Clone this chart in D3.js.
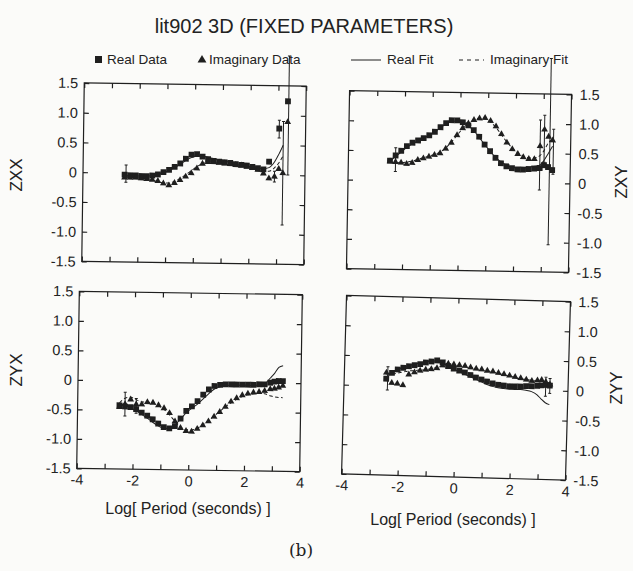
<!DOCTYPE html>
<html>
<head>
<meta charset="utf-8">
<script src="https://cdn.jsdelivr.net/npm/d3@7"></script>
<style>
  body { margin: 0; background: #fbfbf9; }
  svg { display: block; font-family: "Liberation Sans", Arial, sans-serif; }
</style>
</head>
<body>
<svg id="chart" width="633" height="571"></svg>
<script>
// log10 period (s) at which every response was sampled
const periods = [-2.5, -2.3, -2.1, -1.9, -1.7, -1.5, -1.3, -1.1, -0.9, -0.7, -0.5, -0.3, -0.1,
    0.1, 0.3, 0.5, 0.7, 0.9, 1.1, 1.3, 1.5, 1.7, 1.9, 2.1, 2.3, 2.5, 2.7, 2.9, 3.05, 3.2, 3.35];

const zxxReal = [-0.03, -0.04, -0.04, -0.05, -0.05, -0.04, -0.02, 0.02, 0.06, 0.11, 0.17, 0.25, 0.32,
    0.33, 0.29, 0.25, 0.22, 0.21, 0.20, 0.19, 0.17, 0.16, 0.15, 0.13, 0.11, 0.09, 0.22, null, 0.78, null, 1.24];
const zxxImag = [-0.08, -0.08, -0.08, -0.09, -0.10, -0.11, -0.13, -0.17, -0.20, -0.16, -0.11, -0.05, 0.01,
    0.09, 0.17, 0.20, 0.20, 0.19, 0.18, 0.17, 0.16, 0.15, 0.13, 0.11, 0.08, 0.02, -0.06, -0.03, 0.10, 0.03, 0.89];
const zxxRealFit = [-0.04, -0.05, -0.05, -0.05, -0.05, -0.04, -0.02, 0.01, 0.05, 0.10, 0.16, 0.22, 0.27,
    0.30, 0.30, 0.28, 0.26, 0.24, 0.22, 0.20, 0.18, 0.16, 0.14, 0.12, 0.11, 0.10, 0.12, 0.22, 0.35, 0.50, null];
const zxxImagFit = [-0.07, -0.07, -0.08, -0.09, -0.10, -0.12, -0.14, -0.16, -0.16, -0.13, -0.08, -0.02, 0.05,
    0.12, 0.17, 0.19, 0.19, 0.18, 0.17, 0.16, 0.15, 0.14, 0.12, 0.10, 0.08, 0.06, 0.06, 0.12, 0.20, 0.32, null];
const zxxErrors = [
    { p: -2.45, lo: -0.16, hi: 0.13 }, { p: 2.9, lo: -0.12, hi: 0.06 }, { p: 3.05, lo: 0.62, hi: 0.92 },
    { p: 3.2, lo: -0.84, hi: 0.9 }, { p: 3.38, lo: 0.0, hi: 2.0 }
];

const zxyReal = [0.33, 0.42, 0.50, 0.58, 0.64, 0.68, 0.72, 0.77, 0.83, 0.91, 0.98, 1.03, 1.03,
    1.00, 0.95, 0.87, 0.76, 0.63, 0.52, 0.41, 0.32, 0.27, 0.24, 0.22, 0.22, 0.23, 0.24, 0.25, 0.30, 0.27, 0.22];
const zxyImag = [0.32, 0.31, 0.30, 0.28, 0.30, 0.35, 0.38, 0.41, 0.44, 0.47, 0.55, 0.65, 0.78,
    0.90, 0.98, 1.04, 1.07, 1.08, 1.03, 0.94, 0.81, 0.67, 0.56, 0.48, 0.43, 0.40, 0.40, 0.62, 0.90, 0.78, 0.72];
const zxyRealFit = [0.32, 0.40, 0.48, 0.56, 0.62, 0.67, 0.72, 0.77, 0.83, 0.90, 0.97, 1.01, 1.02,
    1.00, 0.94, 0.86, 0.75, 0.63, 0.52, 0.42, 0.34, 0.29, 0.26, 0.25, 0.25, 0.26, 0.28, 0.30, 0.38, 0.50, 0.62];
const zxyImagFit = [0.30, 0.30, 0.30, 0.31, 0.33, 0.36, 0.39, 0.42, 0.45, 0.49, 0.56, 0.66, 0.78,
    0.89, 0.98, 1.04, 1.07, 1.06, 1.01, 0.92, 0.80, 0.68, 0.58, 0.50, 0.45, 0.42, 0.42, 0.46, 0.55, 0.68, 0.74];
const zxyErrors = [
    { p: -2.3, lo: 0.15, hi: 0.55 }, { p: 2.9, lo: -0.12, hi: 1.06 }, { p: 3.05, lo: 0.35, hi: 1.14 },
    { p: 3.25, lo: -1.04, hi: 2.1 }, { p: 3.38, lo: 0.15, hi: 0.91 }
];

const zyxReal = [-0.42, -0.44, -0.45, -0.48, -0.54, -0.59, -0.65, -0.72, -0.78, -0.80, -0.76, -0.63, -0.50,
    -0.42, -0.33, -0.22, -0.13, -0.07, -0.05, -0.04, -0.04, -0.04, -0.04, -0.04, -0.04, -0.03, -0.03, 0.00, 0.02, 0.03, 0.03];
const zyxImag = [-0.45, -0.40, -0.32, -0.40, -0.40, -0.36, -0.37, -0.41, -0.46, -0.54, -0.68, -0.79, -0.84,
    -0.85, -0.80, -0.74, -0.67, -0.59, -0.51, -0.42, -0.33, -0.27, -0.22, -0.19, -0.17, -0.16, -0.14, -0.11, -0.10, -0.08, -0.05];
const zyxRealFit = [-0.40, -0.42, -0.46, -0.51, -0.57, -0.63, -0.70, -0.76, -0.80, -0.80, -0.74, -0.64, -0.53,
    -0.45, -0.38, -0.29, -0.20, -0.12, -0.08, -0.06, -0.05, -0.05, -0.05, -0.05, -0.05, -0.04, -0.02, 0.08, 0.16, 0.26, 0.29];
const zyxImagFit = [-0.38, -0.30, -0.28, -0.32, -0.36, -0.36, -0.38, -0.42, -0.48, -0.57, -0.68, -0.77, -0.82,
    -0.82, -0.79, -0.73, -0.66, -0.58, -0.50, -0.42, -0.35, -0.29, -0.24, -0.21, -0.19, -0.18, -0.19, -0.22, -0.24, -0.25, -0.25];
const zyxErrors = [{ p: -2.3, lo: -0.6, hi: -0.2 }, { p: -1.9, lo: -0.55, hi: -0.3 }];

const zyyReal = [0.12, 0.22, 0.28, 0.31, 0.34, 0.36, 0.38, 0.41, 0.43, 0.45, 0.42, 0.36, 0.32,
    0.29, 0.26, 0.22, 0.18, 0.15, 0.12, 0.09, 0.07, 0.06, 0.05, 0.05, 0.05, 0.06, 0.06, 0.07, 0.08, 0.09, 0.08];
const zyyImag = [0.22, 0.05, 0.04, 0.02, 0.20, 0.24, 0.27, 0.29, 0.30, 0.32, 0.37, 0.40, 0.39,
    0.38, 0.37, 0.35, 0.33, 0.32, 0.30, 0.29, 0.27, 0.25, 0.23, 0.21, 0.19, 0.17, 0.15, 0.16, 0.17, 0.14, 0.10];
const zyyRealFit = [0.15, 0.22, 0.28, 0.32, 0.35, 0.38, 0.40, 0.42, 0.44, 0.44, 0.41, 0.36, 0.31,
    0.27, 0.23, 0.19, 0.15, 0.11, 0.07, 0.04, 0.02, 0.01, 0.00, 0.00, 0.00, -0.01, -0.03, -0.08, -0.15, -0.21, -0.24];
const zyyImagFit = [0.20, 0.20, 0.22, 0.24, 0.26, 0.27, 0.28, 0.29, 0.31, 0.33, 0.36, 0.38, 0.38,
    0.37, 0.36, 0.35, 0.33, 0.31, 0.30, 0.28, 0.26, 0.24, 0.22, 0.20, 0.18, 0.17, 0.16, 0.15, 0.15, 0.14, 0.12];
const zyyErrors = [{ p: -2.45, lo: -0.07, hi: 0.32 }, { p: 3.2, lo: -0.1, hi: 0.22 }, { p: 3.35, lo: -0.05, hi: 0.2 }];

const xTicks = [-4, -3, -2, -1, 0, 1, 2, 3, 4];
const xTickLabels = [-4, -2, 0, 2, 4];
const yTicks = [-1.5, -1.0, -0.5, 0, 0.5, 1.0, 1.5];

const INK = "#1f1f1f";
const TEXT = "#222";

const svg = d3.select("#chart");

// title + legend
svg.append("text")
    .attr("x", 304).attr("y", 33)
    .attr("text-anchor", "middle")
    .attr("font-size", 20)
    .attr("fill", TEXT)
    .text("lit902 3D (FIXED PARAMETERS)");

const legend = svg.append("g").attr("font-size", 13.5).attr("fill", TEXT);
legend.append("rect").attr("x", 95).attr("y", 56).attr("width", 7).attr("height", 7).attr("fill", INK);
legend.append("text").attr("x", 107).attr("y", 64).text("Real Data");
legend.append("path").attr("d", d3.symbol(d3.symbolTriangle, 34)()).attr("transform", "translate(202,60)").attr("fill", INK);
legend.append("text").attr("x", 209).attr("y", 64).text("Imaginary Data");
legend.append("line").attr("x1", 351).attr("x2", 381).attr("y1", 60).attr("y2", 60).attr("stroke", INK);
legend.append("text").attr("x", 387).attr("y", 64).text("Real Fit");
legend.append("line").attr("x1", 459).attr("x2", 484).attr("y1", 60).attr("y2", 60)
    .attr("stroke", INK).attr("stroke-dasharray", "4,4");
legend.append("text").attr("x", 490).attr("y", 64).text("Imaginary Fit");

const panels = [
    { name: "ZXX", real: zxxReal, imag: zxxImag, realFit: zxxRealFit, imagFit: zxxImagFit, errors: zxxErrors,
      box: [83, 84.5, 305, 263], angle: 0.8, side: "left", xLabels: false, title: [22, 175] },
    { name: "ZXY", real: zxyReal, imag: zxyImag, realFit: zxyRealFit, imagFit: zxyImagFit, errors: zxyErrors,
      box: [348, 92.5, 570, 270.5], angle: 1.0, side: "right", xLabels: false, title: [627, 182] },
    { name: "ZYX", real: zyxReal, imag: zyxImag, realFit: zyxRealFit, imagFit: zyxImagFit, errors: zyxErrors,
      box: [78, 293, 301, 470], angle: 0.85, side: "left", xLabels: true, title: [22, 370], xTitle: [188, 514] },
    { name: "ZYY", real: zyyReal, imag: zyyImag, realFit: zyyRealFit, imagFit: zyyImagFit, errors: zyyErrors,
      box: [344, 298.5, 568, 477], angle: 1.6, side: "right", xLabels: true, title: [622, 388], xTitle: [453, 525] }
];

const fmtY = (d) => (d === 0 ? "0" : d.toFixed(1));

panels.forEach((panel) => {
    const [x0, y0, x1, y1] = panel.box;
    const w = x1 - x0;
    const h = y1 - y0;
    const cx = x0 + w / 2;
    const cy = y0 + h / 2;

    const x = d3.scaleLinear().domain([-4, 4]).range([0, w]);
    const y = d3.scaleLinear().domain([-1.5, 1.5]).range([h, 0]);

    const g = svg.append("g")
        .attr("transform", `rotate(${panel.angle},${cx},${cy}) translate(${x0},${y0})`);

    g.append("rect")
        .attr("width", w).attr("height", h)
        .attr("fill", "none").attr("stroke", INK).attr("stroke-width", 1.2);

    const styleAxis = (sel) => {
        sel.select(".domain").remove();
        sel.selectAll("line").attr("stroke", INK).attr("stroke-width", 1.2);
        sel.selectAll("text")
            .attr("fill", TEXT)
            .attr("font-size", 14.5)
            .attr("font-family", "Liberation Sans, Arial, sans-serif");
    };

    g.append("g").attr("transform", `translate(0,${h})`)
        .call(d3.axisBottom(x).tickValues(xTicks).tickSize(-5).tickSizeOuter(0).tickPadding(6)
            .tickFormat((d) => (panel.xLabels && xTickLabels.includes(d) ? String(d) : "")))
        .call(styleAxis);
    g.append("g")
        .call(d3.axisTop(x).tickValues(xTicks).tickSize(-5).tickSizeOuter(0).tickFormat(""))
        .call(styleAxis);
    g.append("g")
        .call(d3.axisLeft(y).tickValues(yTicks).tickSize(-5).tickSizeOuter(0).tickPadding(6)
            .tickFormat(panel.side === "left" ? fmtY : ""))
        .call(styleAxis);
    g.append("g").attr("transform", `translate(${w},0)`)
        .call(d3.axisRight(y).tickValues(yTicks).tickSize(-5).tickSizeOuter(0).tickPadding(8)
            .tickFormat(panel.side === "right" ? fmtY : ""))
        .call(styleAxis);

    const series = (values) => periods.map((p, i) => ({ p, v: values[i] })).filter((d) => d.v != null);

    const line = d3.line()
        .defined((d) => d.v != null)
        .x((d) => x(d.p))
        .y((d) => y(d.v))
        .curve(d3.curveMonotoneX);

    const fitData = (values) => periods.map((p, i) => ({ p, v: values[i] }));

    g.append("path").datum(fitData(panel.realFit))
        .attr("d", line).attr("fill", "none").attr("stroke", INK).attr("stroke-width", 1);
    g.append("path").datum(fitData(panel.imagFit))
        .attr("d", line).attr("fill", "none").attr("stroke", INK).attr("stroke-width", 1)
        .attr("stroke-dasharray", "3.5,2.5");

    const bars = g.append("g").attr("stroke", INK).attr("stroke-width", 1);
    bars.selectAll("line.bar").data(panel.errors).join("line")
        .attr("class", "bar")
        .attr("x1", (d) => x(d.p)).attr("x2", (d) => x(d.p))
        .attr("y1", (d) => y(d.hi)).attr("y2", (d) => y(d.lo));
    bars.selectAll("line.cap").data(panel.errors.flatMap((d) => [{ p: d.p, v: d.hi }, { p: d.p, v: d.lo }]))
        .join("line")
        .attr("class", "cap")
        .attr("x1", (d) => x(d.p) - 1.5).attr("x2", (d) => x(d.p) + 1.5)
        .attr("y1", (d) => y(d.v)).attr("y2", (d) => y(d.v));

    g.append("g").selectAll("rect").data(series(panel.real)).join("rect")
        .attr("x", (d) => x(d.p) - 2.9).attr("y", (d) => y(d.v) - 2.9)
        .attr("width", 5.8).attr("height", 5.8)
        .attr("fill", INK);

    const tri = d3.symbol(d3.symbolTriangle, 20)();
    g.append("g").selectAll("path").data(series(panel.imag)).join("path")
        .attr("d", tri)
        .attr("transform", (d) => `translate(${x(d.p)},${y(d.v)})`)
        .attr("fill", INK);

    // component label, written sideways next to the frame
    svg.append("text")
        .attr("transform", `translate(${panel.title[0]},${panel.title[1]}) rotate(-90)`)
        .attr("text-anchor", "middle")
        .attr("font-size", 17)
        .attr("fill", TEXT)
        .text(panel.name);

    if (panel.xTitle) {
        svg.append("text")
            .attr("x", panel.xTitle[0]).attr("y", panel.xTitle[1])
            .attr("text-anchor", "middle")
            .attr("font-size", 16)
            .attr("fill", TEXT)
            .text("Log[ Period (seconds) ]");
    }
});

svg.append("text")
    .attr("x", 301).attr("y", 556)
    .attr("text-anchor", "middle")
    .attr("font-family", "DejaVu Serif, Liberation Serif, serif")
    .attr("font-size", 17)
    .attr("fill", TEXT)
    .text("(b)");
</script>
</body>
</html>
